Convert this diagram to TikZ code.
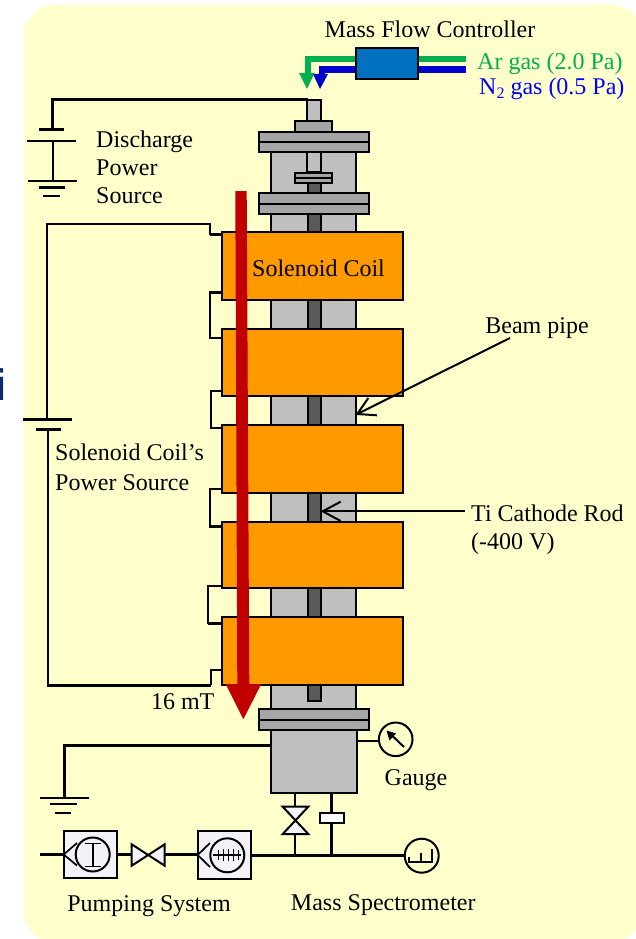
\documentclass[tikz,border=0pt]{standalone}
\usepackage{fontspec}
\setmainfont{Liberation Serif}
\newfontfamily\sansb{Liberation Sans}
\definecolor{panel}{HTML}{FFFFCC}
\definecolor{coilc}{HTML}{FF9900}
\definecolor{bodyc}{HTML}{BFBFBF}
\definecolor{flangec}{HTML}{A6A6A6}
\definecolor{rodc}{HTML}{595959}
\definecolor{redc}{HTML}{C00000}
\definecolor{arc}{HTML}{00B050}
\definecolor{nc}{HTML}{0000CC}
\definecolor{mfcc}{HTML}{0070C0}
\definecolor{pumpc}{HTML}{F2F2F8}
\definecolor{navyi}{HTML}{0B2A6F}
\tikzset{
  lab/.style={font=\fontsize{24}{26}\selectfont,inner sep=0pt,text=black},
  part/.style={draw=black,line width=2pt},
  wire/.style={draw=black,line width=2pt,line join=miter},
  thickwire/.style={draw=black,line width=3pt,line join=miter},
  plate/.style={draw=black,line width=1.7pt},
  longbar/.style={draw=black,line width=3pt},
  sym/.style={draw=black,line width=1.7pt},
}
\begin{document}
\begin{tikzpicture}[x=1pt,y=-1pt]
\useasboundingbox (0,0) rectangle (636,939);
\clip (0,0) rectangle (636,939);
% panel
\fill[panel,rounded corners=30pt] (24,5) rectangle (642,942);
% clipped heading letter
\node[anchor=base east,inner sep=0pt,text=navyi,font=\sansb\bfseries\fontsize{44}{48}\selectfont] (headi) at (7,400) {i};

% gas lines
\draw[draw=arc,line width=6pt] (466,59) -- (307.5,59) -- (307.5,75);
\fill[arc] (299,73) -- (314.5,73) -- (307,89) -- cycle;
\draw[draw=nc,line width=6.5pt] (466,69.5) -- (322,69.5) -- (322,78);
\fill[nc] (313,74) -- (328,74) -- (320,89) -- cycle;
\draw[part,fill=mfcc] (356,48) rectangle (418,79.5);
\coordinate (mfcnode) at (387,64);

% column
\draw[part,fill=bodyc] (271,152) rectangle (356.3,232);
\draw[part,fill=bodyc] (271,300) rectangle (356.3,329);
\draw[part,fill=bodyc] (271,395.7) rectangle (356.3,424.7);
\draw[part,fill=bodyc] (271,492.7) rectangle (356.3,521.7);
\draw[part,fill=bodyc] (271,588.3) rectangle (356.3,617);
\draw[part,fill=bodyc] (271,685.3) rectangle (356.3,709.3);
\draw[part,fill=bodyc] (307.3,100) rectangle (320.5,121);
\draw[part,fill=bodyc] (307.3,152) rectangle (320.5,172);
% rod
\draw[part,fill=rodc] (307.7,183) rectangle (321.3,232);
\draw[part,fill=rodc] (307.7,300) rectangle (321.3,329);
\draw[part,fill=rodc] (307.7,395.7) rectangle (321.3,424.7);
\draw[part,fill=rodc] (307.7,492.7) rectangle (321.3,521.7);
\draw[part,fill=rodc] (307.7,588.3) rectangle (321.3,617);
\draw[part,fill=rodc] (307.7,685.3) rectangle (321.3,700.7);
% flanges
\draw[part,fill=flangec] (295,121) rectangle (332,132);
\draw[part,fill=flangec] (258.7,132) rectangle (368.7,142);
\draw[part,fill=flangec] (258.7,142) rectangle (368.7,152);
\draw[part,fill=flangec] (295,172.5) rectangle (332,178);
\draw[part,fill=flangec] (295,178) rectangle (332,183);
\draw[part,fill=flangec] (258.7,193) rectangle (368.7,204);
\draw[part,fill=flangec] (258.7,204) rectangle (368.7,214);
\draw[part,fill=flangec] (259,709.3) rectangle (368.7,719.7);
\draw[part,fill=flangec] (259,719.7) rectangle (368.7,730.3);
\draw[part,fill=bodyc] (271,730.3) rectangle (356.7,792.7);

% coil connecting wires
\draw[wire] (222,234) -- (210,234) -- (210,224) -- (46.7,224) -- (46.7,419.3);
\draw[wire] (47.7,429.3) -- (47.7,685.3);
\draw[thickwire] (47,685.3) -- (210.7,685.3);
\draw[wire] (210.7,685.3) -- (210.7,670) -- (222,670);
\draw[wire] (222,292) -- (210,292) -- (210,337.7) -- (222,337.7);
\draw[wire] (222,391) -- (210.7,391) -- (210.7,427.7) -- (222,427.7);
\draw[wire] (222,489) -- (210,489) -- (210,526.7) -- (222,526.7);
\draw[wire] (222,585.7) -- (208.3,585.7) -- (208.3,623.3) -- (222,623.3);
\draw[thickwire] (210,234) -- (222,234);
\draw[thickwire] (210,292) -- (222,292);
\draw[thickwire] (210,526.7) -- (222,526.7);
\draw[thickwire] (208.3,623.3) -- (222,623.3);
% coils
\draw[part,fill=coilc] (221.7,232) rectangle (403.3,300);
\draw[part,fill=coilc] (221.7,329) rectangle (403.3,395.7);
\draw[part,fill=coilc] (221.7,424.7) rectangle (403.3,492.7);
\draw[part,fill=coilc] (221.7,521.7) rectangle (403.3,588.3);
\draw[part,fill=coilc] (221.7,617) rectangle (403.3,685.3);

% solenoid battery
\draw[longbar] (23,419.3) -- (72,419.3);
\draw[longbar] (36,429.3) -- (61,429.3);

% discharge source
\draw[thickwire] (308,100) -- (52.7,100) -- (52.7,130);
\draw[longbar] (39,130) -- (64,130);
\draw[wire] (27,141) -- (76,141);
\draw[wire] (52.7,141) -- (52.7,181);
\draw[wire] (28,181) -- (77,181);
\draw[longbar] (38.5,187.5) -- (65,187.5);
\draw[wire] (43,196) -- (60,196);

% red arrow
\fill[redc] (235.3,191) -- (246.7,191) -- (249.3,684) -- (261.3,684) -- (243.3,719.3) -- (225.7,684) -- (237.3,684) -- cycle;

% ground wire
\draw[thickwire] (271,745.3) -- (64,745.3) -- (64,797.7);
\draw[wire] (40,797.7) -- (89,797.7);
\draw[wire] (50,804) -- (77,804);
\draw[wire] (55,812.7) -- (71,812.7);

% gauge
\draw[wire] (356.7,741) -- (379,741);
\draw[part,fill=panel] (395.7,739.3) circle (16.8);
\coordinate (gA) at (404,747); \coordinate (gB) at (386.5,730.5);
\draw[line width=2pt] (gA) -- (392,735.5);
\fill (gB) -- (396,733.5) -- (389.5,740.5) -- cycle;

% valve + bellows
\draw[thickwire] (40,854.5) -- (64,854.5);
\draw[thickwire] (116.7,854.5) -- (132,854.5);
\draw[thickwire] (164.7,854.5) -- (198,854.5);
\draw[thickwire] (250.7,855) -- (405,855);
\draw[wire] (295,792.7) -- (295,855);
\draw[part,fill=pumpc] (282.7,806.7) -- (308.3,806.7) -- (282.7,834) -- (308.3,834) -- cycle;
\draw[thickwire,line width=2.6pt] (331.3,792.7) -- (331.3,855);
\draw[part,fill=white] (319.7,812.7) rectangle (344,823.3);
\draw[part,fill=pumpc] (131.7,844.3) -- (131.7,865.7) -- (164.7,844.3) -- (164.7,865.7) -- cycle;

% pump 1
\draw[part,fill=pumpc] (63.7,830.7) rectangle (116.7,877.7);
\draw[part] (92.7,854.5) circle (17);
\draw[sym] (77,843) -- (63.7,854.5) -- (77,865.5);
\draw[sym] (92.7,843.5) -- (92.7,866.5) (85,843.5) -- (100.5,843.5) (85,866.5) -- (100.5,866.5);

% pump 2
\draw[part,fill=pumpc] (197.7,831) rectangle (250.7,879.3);
\draw[part] (227.3,855.3) circle (17);
\draw[sym] (210,843) -- (197.7,855) -- (210,867);
\draw[sym] (213.3,855.3) -- (240.7,855.3);
\foreach \cx/\h in {218.5/5,223.5/6,228.5/6,233.5/6,238.5/5}
  \draw[sym] (\cx,855.3-\h) -- (\cx,855.3+\h);

% spectrometer
\draw[part,fill=panel] (421.7,855.7) circle (17);
\draw[sym] (409.3,856.7) -- (409.3,861.7) -- (432.3,861.7) -- (432.3,849.3);
\draw[sym] (420.7,853) -- (420.7,861.7);

% labels with arrows
\node[lab,anchor=base] (beam) at (537,333) {Beam pipe};
\coordinate (beamEnd) at (510,338);
\coordinate (beamTip) at (357.3,414);
\draw[line width=2pt] (beamEnd) -- (beamTip);
\draw[line width=2pt] (368.3,398) -- (beamTip) -- (377,415.3);
\node[lab,anchor=base west] (rodl) at (471,521) {Ti Cathode Rod};
\node[lab,anchor=base west] (rodv) at (471,549) {(-400 V)};
\coordinate (rodEnd) at (465,511.3);
\coordinate (rodTip) at (322.7,511.3);
\draw[line width=2pt] (rodEnd) -- (rodTip);
\draw[line width=2pt] (340.7,501.7) -- (rodTip) -- (340.7,521);

% texts
\node[lab,anchor=base] (mfc) at (430,38) {Mass Flow Controller};
\node[lab,anchor=base west,text=arc] (ar) at (477,69.7) {Ar gas (2.0 Pa)};
\node[lab,anchor=base west,text=blue] (n2) at (479,95) {N\raisebox{-4pt}{\fontsize{16}{16}\selectfont 2} gas (0.5 Pa)};
\node[lab,anchor=base west] (d1) at (96,147) {Discharge};
\node[lab,anchor=base west] (d2) at (96,175.7) {Power};
\node[lab,anchor=base west] (d3) at (96,203) {Source};
\node[lab,anchor=base] (coil) at (318.5,276.7) {Solenoid Coil};
\node[lab,anchor=base west] (s1) at (55,460.7) {Solenoid Coil’s};
\node[lab,anchor=base west] (s2) at (55,490) {Power Source};
\node[lab,anchor=base] (mt) at (182.7,709) {16 mT};
\node[lab,anchor=base] (gauge) at (416,785) {Gauge};
\node[lab,anchor=base] (pump) at (149,911.7) {Pumping System};
\node[lab,anchor=base] (ms) at (383.3,910.7) {Mass Spectrometer};
\end{tikzpicture}
\end{document}
